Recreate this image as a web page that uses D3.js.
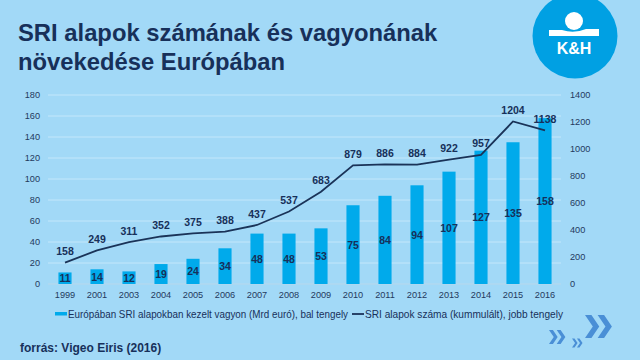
<!DOCTYPE html>
<html><head><meta charset="utf-8">
<script src="https://cdn.jsdelivr.net/npm/d3@7"></script>
<style>html,body{margin:0;padding:0;background:#a2d9f7;}svg{display:block;font-family:"Liberation Sans",Arial,sans-serif;}</style>
</head><body><svg id="c" width="640" height="360"></svg>
<script>
const categories = ["1999","2001","2003","2004","2005","2006","2007","2008","2009","2010","2011","2012","2013","2014","2015","2016"];
const assets = [11,14,12,19,24,34,48,48,53,75,84,94,107,127,135,158];
const fundCount = [158,249,311,352,375,388,437,537,683,879,886,884,922,957,1204,1138];
const leftTicks = [0,20,40,60,80,100,120,140,160,180];
const rightTicks = [0,200,400,600,800,1000,1200,1400];
const titleLines = ["SRI alapok számának és vagyonának","növekedése Európában"];
const legendLabels = ["Európában SRI alapokban kezelt vagyon (Mrd euró), bal tengely","SRI alapok száma (kummulált), jobb tengely"];
const sourceText = "forrás: Vigeo Eiris (2016)";

const navy = "#17305a", barCol = "#00aaeb", lineCol = "#1a3358";
const svg = d3.select("#c");
svg.append("rect").attr("width",640).attr("height",360).attr("fill","#a2d9f7");

// title
svg.append("g").selectAll("text").data(titleLines).join("text")
  .attr("x",18).attr("y",(d,i)=>41+i*28.5).attr("fill",navy)
  .attr("font-size",23.8).attr("font-weight","bold").text(d=>d);

// logo
const logo = svg.append("g");
logo.append("circle").attr("cx",575).attr("cy",36).attr("r",42.5).attr("fill","#00a0e3");
logo.append("circle").attr("cx",574).attr("cy",21).attr("r",9).attr("fill","#fff");
logo.append("path").attr("fill","#fff")
  .attr("d","M549,30 L562,30 Q574,34 586,29 L599,29 L599,36 L549,36 Z");
logo.append("text").attr("x",574).attr("y",54).attr("text-anchor","middle")
  .attr("fill","#fff").attr("font-size",16).attr("font-weight","bold").text("K&H");

const L = 49, R = 561, T = 95, B = 284;
const x = d3.scaleBand().domain(categories).range([L,R]).paddingInner(0.59).paddingOuter(0.295);
const yL = d3.scaleLinear().domain([0,180]).range([B,T]);
const yR = d3.scaleLinear().domain([0,1400]).range([B,T]);

// gridlines
svg.append("g").selectAll("line").data(leftTicks).join("line")
  .attr("x1",L-1).attr("x2",R).attr("y1",d=>yL(d)).attr("y2",d=>yL(d))
  .attr("stroke",d=>d===0?"#b8d8ec":"#c3e7fb").attr("stroke-width",1);

// axes
const axL = svg.append("g").attr("transform",`translate(${L-1},0)`)
  .call(d3.axisLeft(yL).tickValues(leftTicks).tickSize(0).tickPadding(8).tickFormat(d3.format("d")));
const axR = svg.append("g").attr("transform",`translate(${R},0)`)
  .call(d3.axisRight(yR).tickValues(rightTicks).tickSize(0).tickPadding(9).tickFormat(d3.format("d")));
const axB = svg.append("g").attr("transform",`translate(0,${B})`)
  .call(d3.axisBottom(x).tickSize(0).tickPadding(7));
[axL,axR,axB].forEach(a=>{a.select(".domain").remove();
  a.selectAll("text").attr("fill","#24395e").attr("font-size",9.2).attr("font-family","Liberation Sans, Arial, sans-serif");});

// bars
svg.append("g").selectAll("rect").data(assets).join("rect")
  .attr("x",(d,i)=>x(categories[i])).attr("width",x.bandwidth())
  .attr("y",d=>yL(d)).attr("height",d=>B-yL(d)).attr("fill",barCol);
svg.append("g").selectAll("text").data(assets).join("text")
  .attr("x",(d,i)=>x(categories[i])+x.bandwidth()/2).attr("y",d=>(yL(d)+B)/2+4)
  .attr("text-anchor","middle").attr("fill",navy).attr("font-size",10.5).attr("font-weight","bold").text(d=>d);

// line
const line = d3.line().x((d,i)=>x(categories[i])+x.bandwidth()/2).y(d=>yR(d));
svg.append("path").datum(fundCount).attr("d",line).attr("fill","none")
  .attr("stroke",lineCol).attr("stroke-width",1.8);
svg.append("g").selectAll("text").data(fundCount).join("text")
  .attr("x",(d,i)=>x(categories[i])+x.bandwidth()/2).attr("y",d=>yR(d)-7.5)
  .attr("text-anchor","middle").attr("fill",navy).attr("font-size",10.5).attr("font-weight","bold").text(d=>d);

// legend
const lg = svg.append("g");
lg.append("rect").attr("x",55).attr("y",312).attr("width",12).attr("height",3.5).attr("fill",barCol);
lg.append("text").attr("x",68).attr("y",317.5).attr("fill",navy).attr("font-size",10.3)
  .attr("textLength",280).attr("lengthAdjust","spacingAndGlyphs").text(legendLabels[0]);
lg.append("line").attr("x1",352).attr("x2",364).attr("y1",314).attr("y2",314).attr("stroke",lineCol).attr("stroke-width",1.8);
lg.append("text").attr("x",365).attr("y",317.5).attr("fill",navy).attr("font-size",10.3)
  .attr("textLength",198).attr("lengthAdjust","spacingAndGlyphs").text(legendLabels[1]);

// source
svg.append("text").attr("x",20).attr("y",352).attr("fill",navy).attr("font-size",12).attr("font-weight","bold").text(sourceText);

// chevrons
const chev = (cx,cy,s)=>{
  const g = svg.append("g").attr("fill","#4a8fd6");
  [0,0.55].forEach(o=>{
    const x0 = cx + o*s;
    g.append("path").attr("d",`M${x0},${cy-s/2} L${x0+0.28*s},${cy-s/2} L${x0+0.62*s},${cy} L${x0+0.28*s},${cy+s/2} L${x0},${cy+s/2} L${x0+0.34*s},${cy} Z`);
  });
};
chev(585,326.5,23);
chev(549,337,14);
chev(572,343,9);
</script></body></html>
